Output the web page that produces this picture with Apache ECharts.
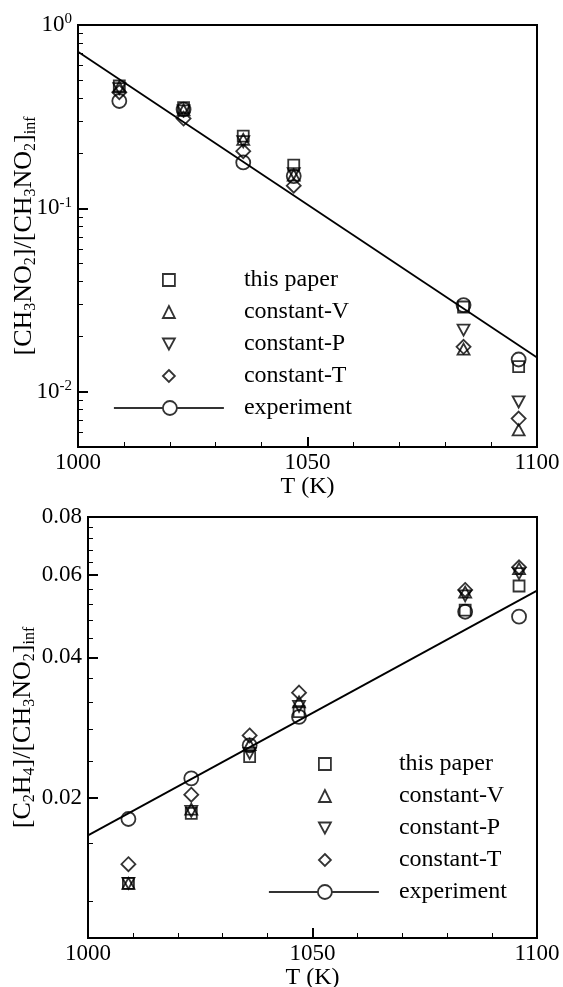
<!DOCTYPE html>
<html>
<head>
<meta charset="utf-8">
<script src="https://cdn.jsdelivr.net/npm/echarts@6/dist/echarts.min.js"></script>
<style>
html, body { margin: 0; padding: 0; background: #fff; }
#chart { width: 563px; height: 987px; }
</style>
</head>
<body>
<div id="chart"></div>
<script>
// temperatures (K) of the simulated / measured points
var temps = [1009, 1023, 1036, 1047, 1084, 1096];
var fitT = [1000, 1100];

// top panel: [CH3NO2]/[CH3NO2]inf
var topThisPaper = [0.465, 0.354, 0.248, 0.172, 0.029, 0.0137];
var topConstV = [0.46, 0.344, 0.238, 0.152, 0.0171, 0.0062];
var topConstP = [0.45, 0.34, 0.231, 0.155, 0.0217, 0.0088];
var topConstT = [0.43, 0.309, 0.205, 0.133, 0.0176, 0.00715];
var topExp = [0.385, 0.346, 0.178, 0.150, 0.0297, 0.0150];
var topFit = [0.715, 0.0154];

// bottom panel: [C2H4]/[CH3NO2]inf
var botThisPaper = [0.0131, 0.0185, 0.0245, 0.0306, 0.0505, 0.0569];
var botConstV = [0.0131, 0.0189, 0.0260, 0.0321, 0.0552, 0.0620];
var botConstP = [0.0131, 0.0187, 0.0249, 0.0314, 0.0542, 0.0605];
var botConstT = [0.0144, 0.0203, 0.0272, 0.0336, 0.0558, 0.0624];
var botExp = [0.0180, 0.0220, 0.0259, 0.0298, 0.0501, 0.0489];
var botFit = [0.0166, 0.0556];

// tick values
var topMajor = [0.01, 0.1, 1];
var topMinor = [0.006, 0.007, 0.008, 0.009, 0.02, 0.03, 0.04, 0.05, 0.06, 0.07, 0.08, 0.09,
                0.2, 0.3, 0.4, 0.5, 0.6, 0.7, 0.8, 0.9];
var botMajor = [0.02, 0.04, 0.06, 0.08];
var botMinor = [0.012, 0.016, 0.024, 0.028, 0.032, 0.036, 0.044, 0.048, 0.052, 0.056,
                0.064, 0.068, 0.072, 0.076];

var FONT = 'Liberation Serif';
var invTri = 'path://M0,0L12,0L6,11Z';
var expIcon = 'path://M0,8L49,8M63,8L110,8M49,8A7,7,0,1,1,63,8A7,7,0,1,1,49,8';
var hollow = { color: 'rgba(0,0,0,0)', borderColor: '#000', borderWidth: 1.8 };

function pairs(xs, ys) {
    return xs.map(function (x, i) { return [x, ys[i]]; });
}

function marks(name, symbol, size, ys, gi) {
    return {
        name: name,
        type: 'scatter',
        xAxisIndex: gi,
        yAxisIndex: gi * 2,
        symbol: symbol,
        symbolSize: size,
        itemStyle: hollow,
        data: pairs(temps, ys)
    };
}

function fitLine(ys, gi) {
    return {
        name: 'fit',
        type: 'line',
        xAxisIndex: gi,
        yAxisIndex: gi * 2,
        showSymbol: false,
        symbol: 'none',
        lineStyle: { color: '#000', width: 1.8 },
        data: pairs(fitT, ys)
    };
}

function xAxis(gi) {
    return {
        type: 'value',
        gridIndex: gi,
        min: 1000, max: 1100, interval: 50,
        name: 'T (K)',
        nameLocation: 'middle',
        nameGap: 25,
        nameTextStyle: { fontFamily: FONT, fontSize: 24, color: '#000' },
        axisLine: { lineStyle: { color: '#000', width: 2 } },
        axisTick: { inside: true, length: 10, lineStyle: { color: '#000', width: 2 } },
        minorTick: { show: true, splitNumber: 5, length: 5, lineStyle: { color: '#000', width: 1 } },
        splitLine: { show: false },
        axisLabel: {
            fontFamily: FONT, fontSize: 23, color: '#000', margin: 4,
            formatter: function (v) { return String(v); }
        }
    };
}

var sub = { fontFamily: FONT, fontSize: 16, lineHeight: 16, verticalAlign: 'bottom', color: '#000' };

function yMain(gi, min, max, major, fmt, name, gap) {
    return {
        type: 'log',
        logBase: 10,
        gridIndex: gi,
        position: 'left',
        min: min, max: max,
        name: name,
        nameLocation: 'middle',
        nameRotate: 90,
        nameGap: gap,
        nameMoveOverlap: false,
        nameTextStyle: { fontFamily: FONT, fontSize: 26, lineHeight: 30, color: '#000', rich: { s: sub } },
        axisLine: { lineStyle: { color: '#000', width: 2 } },
        axisTick: { customValues: major, inside: true, length: 10, lineStyle: { color: '#000', width: 2 } },
        splitLine: { show: false },
        axisLabel: {
            customValues: major,
            formatter: fmt,
            fontFamily: FONT, fontSize: 23, lineHeight: 26, color: '#000', margin: 6,
            rich: { s: { fontFamily: FONT, fontSize: 15, lineHeight: 15, verticalAlign: 'top', color: '#000' } }
        }
    };
}

function yMinor(gi, min, max, minor) {
    return {
        type: 'log',
        logBase: 10,
        gridIndex: gi,
        position: 'left',
        min: min, max: max,
        axisLine: { show: false },
        axisTick: { customValues: minor, inside: true, length: 5, lineStyle: { color: '#000', width: 1 } },
        axisLabel: { show: false },
        splitLine: { show: false }
    };
}

function legendMarks(left, top, pad) {
    return {
        orient: 'vertical',
        left: left, top: top,
        padding: 0,
        itemWidth: 12, itemHeight: 12, itemGap: 8,
        selectedMode: false,
        itemStyle: hollow,
        textStyle: { fontFamily: FONT, fontSize: 24, lineHeight: 24, color: '#000', padding: [0, 0, 0, pad] },
        data: ['this paper', 'constant-V', 'constant-P', 'constant-T']
    };
}

function legendExp(left, top, pad) {
    return {
        orient: 'vertical',
        left: left, top: top,
        padding: 0,
        itemWidth: 110, itemHeight: 16,
        selectedMode: false,
        itemStyle: hollow,
        textStyle: { fontFamily: FONT, fontSize: 24, lineHeight: 24, color: '#000', padding: [0, 0, 0, pad] },
        data: [{ name: 'experiment', icon: expIcon }]
    };
}

var series = [];
[[topThisPaper, topConstV, topConstP, topConstT, topExp, topFit],
 [botThisPaper, botConstV, botConstP, botConstT, botExp, botFit]].forEach(function (d, gi) {
    series.push(marks('this paper', 'rect', 11, d[0], gi));
    series.push(marks('constant-V', 'triangle', [12, 11], d[1], gi));
    series.push(marks('constant-P', invTri, [12, 11], d[2], gi));
    series.push(marks('constant-T', 'diamond', [14, 14], d[3], gi));
    series.push(marks('experiment', 'circle', 14, d[4], gi));
    series.push(fitLine(d[5], gi));
});

var myChart = echarts.init(document.getElementById('chart'), null, { renderer: 'canvas' });

option = {
    backgroundColor: '#fff',
    animation: false,
    grid: [
        { left: 78, top: 25, width: 459, height: 422, show: true, borderColor: '#000', borderWidth: 2, outerBoundsMode: 'none' },
        { left: 88, top: 517, width: 449, height: 421, show: true, borderColor: '#000', borderWidth: 2, outerBoundsMode: 'none' }
    ],
    xAxis: [xAxis(0), xAxis(1)],
    yAxis: [
        yMain(0, 0.005, 1, topMajor, function (v) {
            return '10{s|' + Math.round(Math.log10(v)) + '}';
        }, '[CH{s|3}NO{s|2}]/[CH{s|3}NO{s|2}]{s|inf}', 39),
        yMinor(0, 0.005, 1, topMinor),
        yMain(1, 0.01, 0.08, botMajor, function (v) {
            return v.toFixed(2);
        }, '[C{s|2}H{s|4}]/[CH{s|3}NO{s|2}]{s|inf}', 50),
        yMinor(1, 0.01, 0.08, botMinor)
    ],
    legend: [
        legendMarks(162, 268, 64),
        legendExp(113, 396, 15),
        legendMarks(318, 752, 63),
        legendExp(268, 880, 15)
    ],
    series: series
};
myChart.setOption(option);
</script>
</body>
</html>
